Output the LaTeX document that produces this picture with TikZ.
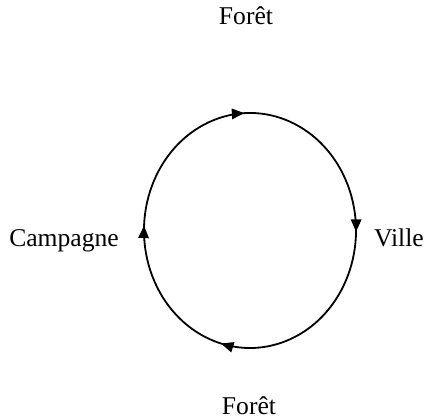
\documentclass[tikz,border=0pt]{standalone}
\usepackage{fontspec}
\setmainfont{Liberation Serif}
\usetikzlibrary{calc,
	positioning,
	arrows.meta,
	decorations.markings}

\begin{document}
\begin{tikzpicture}[x=0.5pt, y=0.5pt,
	place/.style={inner sep=0pt, anchor=base, font=\fontsize{12.8}{15}\selectfont},
	cycletips/.style={decoration={markings,
		mark=at position 0.065 with {\arrow{Triangle[length=6.2pt,width=5.2pt]}},
		mark=at position 0.30 with {\arrow{Triangle[length=6.2pt,width=5.2pt]}},
		mark=at position 0.56 with {\arrow{Triangle[length=6.2pt,width=5.2pt]}},
		mark=at position 0.85 with {\arrow{Triangle[length=6.2pt,width=5.2pt]}}},
		postaction={decorate}}]
	\useasboundingbox (0, 0) rectangle (424, 418);
	\coordinate (c) at (250, 187.5);
	\node[place] (foretup) at (246, 393) {Forêt};
	\node[place] (foretdown) at (249, 3) {Forêt};
	\node[place] (campagne) at (64, 171) {Campagne};
	\node[place] (ville) at (399, 171) {Ville};
	% clockwise cycle
	\draw[line width=0.9pt, cycletips]
		($(c) + (200:106 and 117.5)$) arc [start angle=200, end angle=-160, x radius=106, y radius=117.5];
\end{tikzpicture}
\end{document}
